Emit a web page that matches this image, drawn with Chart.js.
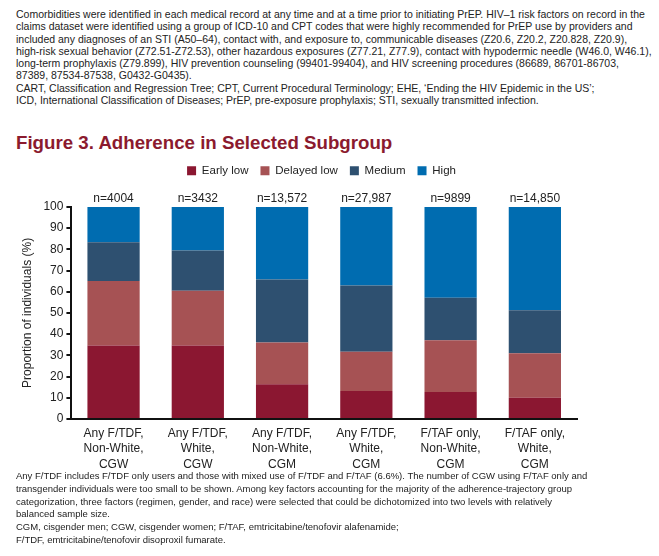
<!DOCTYPE html>
<html>
<head>
<meta charset="utf-8">
<script src="https://cdn.jsdelivr.net/npm/chart.js@4"></script>
<style>
  body { margin: 0; background: #fff; font-family: "Liberation Sans", Arial, sans-serif; color: #222; }
  .note { position: absolute; left: 16px; white-space: nowrap; }
  #top { top: 8px; font-size: 10.5px; line-height: 12.3px; }
  #bottom { top: 470px; font-size: 9.5px; line-height: 12.8px; }
  h1 { position: absolute; left: 16px; top: 132px; margin: 0; font-size: 18.7px; font-weight: bold; color: #8b1a2e; }
  #wrap { position: absolute; left: 0; top: 151px; width: 650px; height: 328px; }
</style>
</head>
<body>
<div class="note" id="top">Comorbidities were identified in each medical record at any time and at a time prior to initiating PrEP. HIV–1 risk factors on record in the<br>claims dataset were identified using a group of ICD-10 and CPT codes that were highly recommended for PrEP use by providers and<br>included any diagnoses of an STI (A50–64), contact with, and exposure to, communicable diseases (Z20.6, Z20.2, Z20.828, Z20.9),<br>high-risk sexual behavior (Z72.51-Z72.53), other hazardous exposures (Z77.21, Z77.9), contact with hypodermic needle (W46.0, W46.1),<br>long-term prophylaxis (Z79.899), HIV prevention counseling (99401-99404), and HIV screening procedures (86689, 86701-86703,<br>87389, 87534-87538, G0432-G0435).<br>CART, Classification and Regression Tree; CPT, Current Procedural Terminology; EHE, ‘Ending the HIV Epidemic in the US’;<br>ICD, International Classification of Diseases; PrEP, pre-exposure prophylaxis; STI, sexually transmitted infection.</div>

<h1>Figure 3. Adherence in Selected Subgroup</h1>

<div id="wrap"><canvas id="myChart" width="650" height="328"></canvas></div>

<div class="note" id="bottom">Any F/TDF includes F/TDF only users and those with mixed use of F/TDF and F/TAF (6.6%). The number of CGW using F/TAF only and<br>transgender individuals were too small to be shown. Among key factors accounting for the majority of the adherence-trajectory group<br>categorization, three factors (regimen, gender, and race) were selected that could be dichotomized into two levels with relatively<br>balanced sample size.<br>CGM, cisgender men; CGW, cisgender women; F/TAF, emtricitabine/tenofovir alafenamide;<br>F/TDF, emtricitabine/tenofovir disoproxil fumarate.</div>

<script>
// -------- Data --------
const groups = [
  ['Any F/TDF,', 'Non-White,', 'CGW'],
  ['Any F/TDF,', 'White,', 'CGW'],
  ['Any F/TDF,', 'Non-White,', 'CGM'],
  ['Any F/TDF,', 'White,', 'CGM'],
  ['F/TAF only,', 'Non-White,', 'CGM'],
  ['F/TAF only,', 'White,', 'CGM']
];
const sampleSizes = ['n=4004', 'n=3432', 'n=13,572', 'n=27,987', 'n=9899', 'n=14,850'];

const earlyLow   = [34.6, 34.6, 16.3, 13.2, 12.7, 10.0];
const delayedLow = [30.5, 25.9, 19.7, 18.5, 24.4, 21.0];
const medium     = [18.2, 18.9, 29.7, 31.2, 20.0, 20.3];
const high       = [16.7, 20.6, 34.3, 37.1, 42.9, 48.7];

const yTicks = [0, 10, 20, 30, 40, 50, 60, 70, 80, 90, 100];

// -------- Plot --------
const ctx = document.getElementById('myChart').getContext('2d');
const family = '"Liberation Sans", Arial, sans-serif';
const font = { family, size: 12 };

const bar = (label, data, color) => ({
  label, data, backgroundColor: color, borderWidth: 0,
  barPercentage: 0.62, categoryPercentage: 1
});

// legend sits centred over the plot, not over the padded box
const shiftLegend = {
  id: 'shiftLegend',
  afterLayout(chart) {
    chart.legend.left += 26;
    chart.legend.right += 26;
  }
};

new Chart(ctx, {
  type: 'bar',
  data: {
    labels: groups,
    datasets: [
      bar('Early low', earlyLow, '#8b1731'),
      bar('Delayed low', delayedLow, '#a65254'),
      bar('Medium', medium, '#2e5070'),
      bar('High', high, '#006cb0')
    ]
  },
  options: {
    responsive: false,
    animation: false,
    layout: { padding: { left: 14, right: 73, top: 2, bottom: 0 } },
    plugins: {
      legend: {
        position: 'top',
        labels: { boxWidth: 9, boxHeight: 9, padding: 12, color: '#222', font: { family, size: 11.5 } }
      },
      tooltip: { enabled: false }
    },
    scales: {
      x: {
        stacked: true,
        grid: { display: false, drawTicks: false },
        border: { color: '#111', width: 2 },
        ticks: { color: '#222', font: { family, size: 12, lineHeight: 1.28 }, maxRotation: 0, padding: 7 }
      },
      x2: {
        position: 'top',
        labels: sampleSizes,
        grid: { display: false, drawTicks: false },
        border: { display: false },
        ticks: { color: '#222', font, padding: 1 },
        afterFit: axis => { axis.height += 4; }
      },
      y: {
        stacked: true,
        min: 0,
        max: 100,
        afterBuildTicks: axis => { axis.ticks = yTicks.map(v => ({ value: v })); },
        grid: { drawOnChartArea: false, color: '#111', tickLength: 5, lineWidth: 2 },
        border: { color: '#111', width: 2 },
        ticks: { color: '#222', font, padding: 3 },
        title: { display: true, text: 'Proportion of individuals (%)', color: '#222', font, padding: 6 }
      }
    }
  },
  plugins: [shiftLegend]
});
</script>
</body>
</html>
